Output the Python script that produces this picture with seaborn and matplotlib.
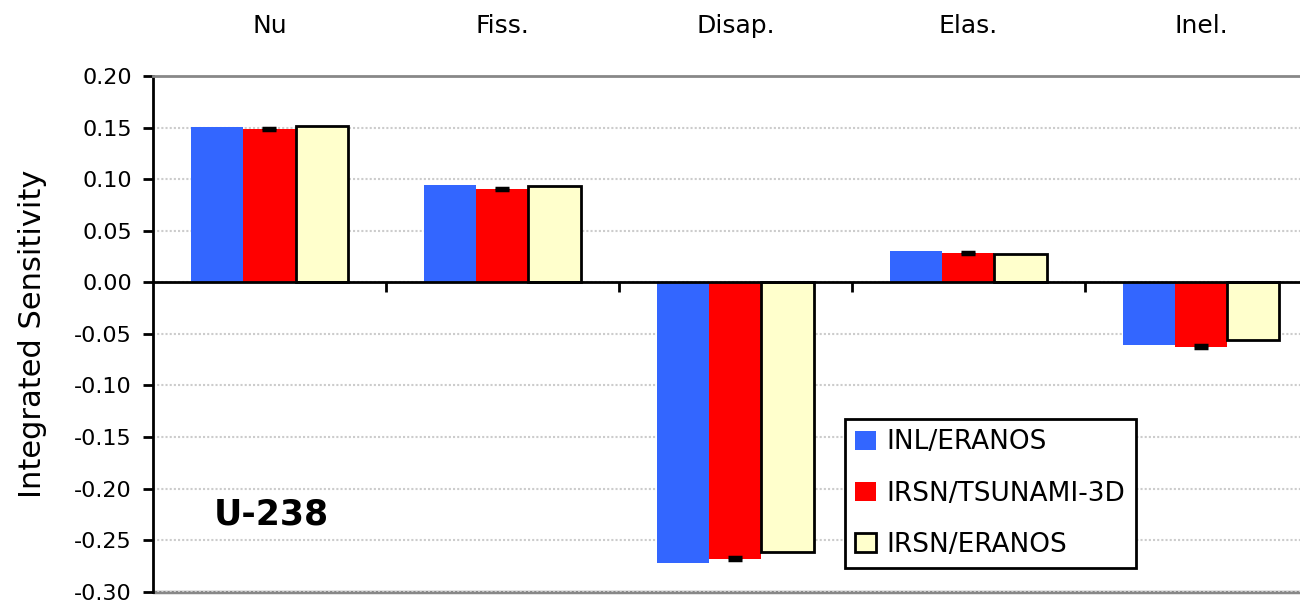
import pandas as pd
import matplotlib
matplotlib.use("Agg")
import matplotlib.pyplot as plt
import seaborn as sns

# Dados (sensibilidades integradas U-238)
categories = ["Nu", "Fiss.", "Disap.", "Elas.", "Inel."]
series = ["INL/ERANOS", "IRSN/TSUNAMI-3D", "IRSN/ERANOS"]
inl_eranos = [0.1503, 0.0940, -0.2720, 0.0303, -0.0605]
irsn_tsunami = [0.1486, 0.0905, -0.2680, 0.0284, -0.0624]
irsn_eranos = [0.1518, 0.0937, -0.2615, 0.0277, -0.0559]
tsunami_err = [0.0012, 0.0012, 0.0012, 0.0012, 0.0012]
yticks = [-0.30, -0.25, -0.20, -0.15, -0.10, -0.05, 0.00, 0.05, 0.10, 0.15, 0.20]
colors = ["#3366FF", "#FF0000", "#FFFFCC"]

df = pd.DataFrame({
    "Reaction": categories * 3,
    "Code": [s for s in series for _ in categories],
    "Sensitivity": inl_eranos + irsn_tsunami + irsn_eranos,
})

sns.set_style("white")
plt.rcParams["font.family"] = ["DejaVu Sans"]
plt.rcParams["axes.unicode_minus"] = False
plt.rcParams["text.color"] = "black"
plt.rcParams["axes.labelcolor"] = "black"
plt.rcParams["xtick.color"] = "black"
plt.rcParams["ytick.color"] = "black"

fig = plt.figure(figsize=(13, 6.03), dpi=100)
ax = fig.add_axes([153 / 1300, 11.3 / 603, 1147 / 1300, 515.7 / 603])

sns.barplot(data=df, x="Reaction", y="Sensitivity", hue="Code",
            palette=dict(zip(series, colors)), width=0.67, ax=ax,
            errorbar=None, saturation=1, linewidth=0)

# borda preta só na série IRSN/ERANOS
for cont, c in zip(ax.containers, colors):
    for p in cont:
        if c == "#FFFFCC":
            p.set_edgecolor("black")
            p.set_linewidth(2)
        else:
            p.set_edgecolor("none")

# barras de erro do TSUNAMI
xs = [p.get_x() + p.get_width() / 2 for p in ax.containers[1]]
ax.errorbar(xs, irsn_tsunami, yerr=tsunami_err, fmt="none", ecolor="black",
            elinewidth=2, capsize=5, capthick=2.5, zorder=5)

ax.set_ylim(yticks[0], yticks[-1])
ax.set_xlim(-0.5, 4.423)
ax.set_yticks(yticks)
ax.set_yticklabels([f"{v:.2f}" for v in yticks])
ax.yaxis.grid(True, color="#cccccc", linestyle=(0, (1, 1)), linewidth=1.5)
ax.set_axisbelow(True)

ax.set_xlabel("")
ax.set_ylabel("Integrated Sensitivity", fontsize=22)
ax.yaxis.set_label_coords(-0.092, 0.5)

ax.spines["right"].set_visible(False)
ax.spines["top"].set_color("#888888")
ax.spines["top"].set_linewidth(2)
ax.spines["left"].set_color("black")
ax.spines["left"].set_linewidth(2)
ax.spines["bottom"].set_position(("data", 0))
ax.spines["bottom"].set_color("black")
ax.spines["bottom"].set_linewidth(2)
ax.axhline(yticks[0], color="#888888", linewidth=2.5, clip_on=False, zorder=0)

ax.tick_params(axis="y", which="major", left=True, length=7.2, width=2,
               direction="out", labelsize=16, pad=8, color="black")
ax.tick_params(axis="x", which="major", bottom=False, top=False,
               labelbottom=False, labeltop=True, labelsize=18, pad=24)
ax.set_xticks([0.5, 1.5, 2.5, 3.5], minor=True)
ax.tick_params(axis="x", which="minor", bottom=True, top=False, length=7.5,
               width=2, direction="out", color="black")

ax.text(0.053, 0.15, "U-238", transform=ax.transAxes, fontsize=25,
        fontweight="bold", va="center", ha="left", color="black")

leg = ax.legend(loc="upper left", bbox_to_anchor=(0.603, 0.335),
                borderaxespad=0, fontsize=19, frameon=True, fancybox=False,
                handlelength=0.8, handleheight=0.75, handletextpad=0.4,
                labelspacing=0.95, borderpad=0.4, framealpha=1)
leg.get_frame().set_edgecolor("black")
leg.get_frame().set_linewidth(2)
for h, c in zip(leg.legend_handles, colors):
    if c == "#FFFFCC":
        h.set_edgecolor("black")
        h.set_linewidth(2)

plt.savefig("out.png", dpi=100)
